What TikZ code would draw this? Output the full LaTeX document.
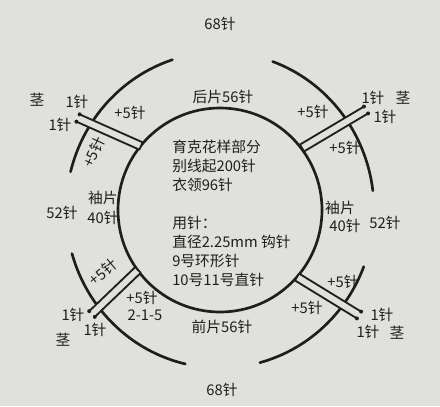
\documentclass[tikz,border=0pt]{standalone}
\usepackage{fontspec}
\setmainfont{Noto Sans CJK SC}
\usetikzlibrary{calc}
\definecolor{paper}{RGB}{224,224,220}
\definecolor{ink}{RGB}{30,30,30}
\tikzset{
	ring/.style={line width=1.9pt, draw=ink, line cap=round},
	rag/.style={line width=1.3pt, draw=ink, fill=paper, line join=round},
	lbl/.style={text=ink, inner sep=0pt, font=\fontsize{10.5}{13.5}\selectfont},
}
\def\ringarc(#1:#2){\draw[ring] ({3.85*cos(#1)},{3.95*sin(#1)}) arc (#1:#2:3.85 and 3.95);}
\def\raglan(#1)(#2){%
	\draw[rag] ($(#2)!0.1cm!-90:(#1)$) -- ($(#1)!0.1cm!90:(#2)$) -- ($(#1)!0.1cm!-90:(#2)$) -- ($(#2)!0.1cm!90:(#1)$);
	\fill[ink] ($(#2)!0.1cm!-90:(#1)$) circle (0.05);
	\fill[ink] ($(#2)!0.1cm!90:(#1)$) circle (0.05);}

\begin{document}
\begin{tikzpicture}
			%%%%% START %%%%%
			
			\fill[paper] (-5.5, -4.9) rectangle (5.5, 5.25);
			
			\ringarc(108:166)
			\ringarc(7:70)
			\ringarc(-75:-21)
			\ringarc(196:257)
			
			\draw[ring] (0, 0) circle (2.55);
			
			\raglan(-1.975, 1.6)(-3.55, 2.3)
			\raglan(2.05, 1.55)(3.65, 2.5)
			\raglan(-2.05, -1.5)(-3.2, -2.6)
			\raglan(1.925, -1.675)(3.475, -2.625)
			
			\node[lbl] (top68) at (0, 4.65) {68针};
			\node[lbl] (back) at (0.075, 2.825) {后片56针};
			\node[lbl] (front) at (0.05, -2.925) {前片56针};
			\node[lbl] (bot68) at (0.05, -4.5) {68针};
			
			\node[lbl, anchor=north west, align=left] (yoke) at (-1.2, 1.75) {育克花样部分\\别线起200针\\衣领96针\\[13.5pt]用针：\\直径2.25mm 钩针\\9号环形针\\10号11号直针};
			
			\node[lbl] (lsleeve) at (-2.925, 0.3) {袖片};
			\node[lbl] (lsleeven) at (-2.925, -0.2) {40针};
			\node[lbl] (l52) at (-3.95, -0.075) {52针};
			\node[lbl] (rsleeve) at (3.0, 0.05) {袖片};
			\node[lbl] (rsleeven) at (3.125, -0.4) {40针};
			\node[lbl] (r52) at (4.125, -0.325) {52针};
			
			\node[lbl] (nwstem) at (-4.575, 2.75) {茎};
			\node[lbl] (nwa) at (-3.575, 2.7) {1针};
			\node[lbl] (nwb) at (-4.0, 2.125) {1针};
			\node[lbl] (nwp) at (-2.25, 2.425) {+5针};
			\node[lbl, rotate=65] (nwq) at (-3.15, 1.45) {+5针};
			
			\node[lbl] (nea) at (3.825, 2.8) {1针};
			\node[lbl] (nestem) at (4.575, 2.8) {茎};
			\node[lbl] (neb) at (4.125, 2.325) {1针};
			\node[lbl] (nep) at (2.325, 2.45) {+5针};
			\node[lbl] (neq) at (3.125, 1.55) {+5针};
			
			\node[lbl, rotate=40] (swq) at (-2.92, -1.55) {+5针};
			\node[lbl] (swp) at (-1.95, -2.2) {+5针};
			\node[lbl] (swrate) at (-1.875, -2.625) {2-1-5};
			\node[lbl] (swa) at (-3.675, -2.625) {1针};
			\node[lbl] (swb) at (-3.125, -3.0) {1针};
			\node[lbl] (swstem) at (-3.925, -3.25) {茎};
			
			\node[lbl] (seq) at (3.075, -1.8) {+5针};
			\node[lbl] (sep) at (2.175, -2.45) {+5针};
			\node[lbl] (sea) at (4.05, -2.625) {1针};
			\node[lbl] (seb) at (3.7, -3.05) {1针};
			\node[lbl] (sestem) at (4.425, -3.075) {茎};
			
			%%%%% END %%%%%
		\end{tikzpicture}
\end{document}
